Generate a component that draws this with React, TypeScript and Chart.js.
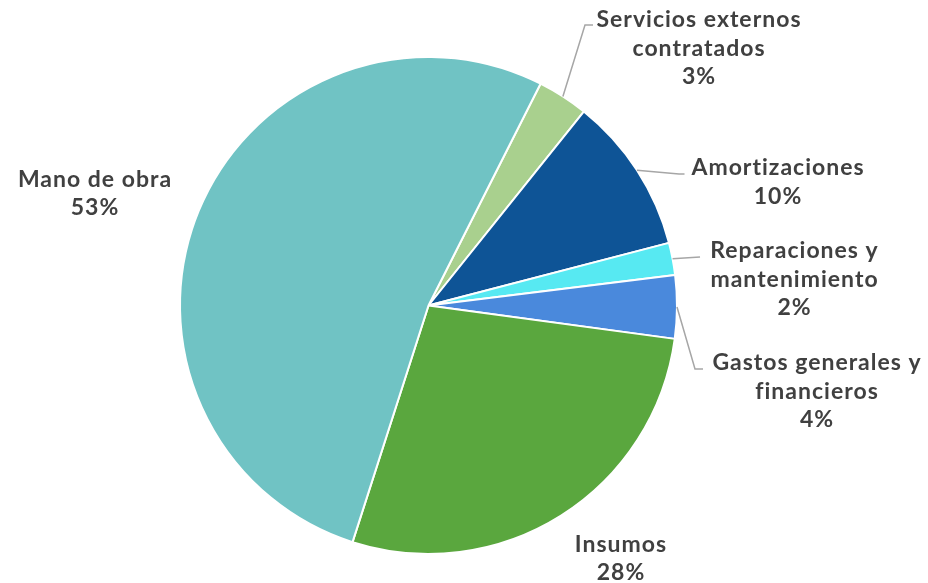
import React, { useEffect, useRef } from "react";
import { Chart, registerables } from "chart.js";

Chart.register(...registerables);

// ---- Data ----
const categories = [
  "Servicios externos contratados",
  "Amortizaciones",
  "Reparaciones y mantenimiento",
  "Gastos generales y financieros",
  "Insumos",
  "Mano de obra",
];
const values = [3.3, 10.2, 2.1, 4.1, 27.8, 52.5];
const percentLabels = ["3%", "10%", "2%", "4%", "28%", "53%"];
const labelLines = [
  ["Servicios externos", "contratados"],
  ["Amortizaciones"],
  ["Reparaciones y", "mantenimiento"],
  ["Gastos generales y", "financieros"],
  ["Insumos"],
  ["Mano de obra"],
];

// ---- Styles / layout ----
const colors = ["#A9D08E", "#0E5496", "#57E9F2", "#4A89DC", "#5AA73E", "#70C3C4"];
const START_ROTATION = 26.8;
const FONT = "bold 23px Lato";
const LETTER_SPACING = "1px";
const TEXT_COLOR = "#404040";
const LINE_HEIGHT = 28.7;
// label anchor (center x, first baseline y) as offsets from pie centre
const labelOffsets = [
  [270.5, -278.5],
  [349.5, -130.5],
  [366, -47.5],
  [388.5, 64.5],
  [192.5, 246],
  [-333.5, -119],
];
// leader line points after the arc edge, offsets from pie centre
const leaderPoints: number[][][] = [
  [[156.5, -280.5], [164.5, -280.5]],
  [[250.5, -131.5], [256, -131.5]],
  [[271.5, -48.5]],
  [[266.5, 63.5], [274.5, 63.5]],
  [],
  [],
];

const labelPlugin = {
  id: "outerLabels",
  afterDraw(chart: any) {
    const ctx = chart.ctx;
    const meta = chart.getDatasetMeta(0);
    meta.data.forEach((arc: any, i: number) => {
      const p = arc.getProps(["x", "y", "startAngle", "endAngle", "outerRadius"], true);
      const mid = (p.startAngle + p.endAngle) / 2;
      const sx = p.x + Math.cos(mid) * p.outerRadius;
      const sy = p.y + Math.sin(mid) * p.outerRadius;
      const pts = leaderPoints[i];
      if (pts.length) {
        ctx.save();
        ctx.strokeStyle = "#A6A6A6";
        ctx.lineWidth = 1.5;
        ctx.beginPath();
        ctx.moveTo(sx, sy);
        pts.forEach((q) => ctx.lineTo(p.x + q[0], p.y + q[1]));
        ctx.stroke();
        ctx.restore();
      }
      const lines = [...labelLines[i], percentLabels[i]];
      const lx = p.x + labelOffsets[i][0];
      const ly = p.y + labelOffsets[i][1];
      ctx.save();
      ctx.font = FONT;
      try {
        (ctx as any).letterSpacing = LETTER_SPACING;
      } catch (e) {}
      ctx.fillStyle = TEXT_COLOR;
      ctx.textAlign = "center";
      ctx.textBaseline = "alphabetic";
      lines.forEach((t, k) => ctx.fillText(t, lx, ly + k * LINE_HEIGHT));
      ctx.restore();
    });
  },
};

export default function App() {
  const ref = useRef<HTMLCanvasElement | null>(null);
  useEffect(() => {
    if (!ref.current) return;
    const chart = new Chart(ref.current, {
      type: "pie",
      data: {
        labels: categories,
        datasets: [
          {
            data: values,
            backgroundColor: colors,
            borderColor: "#FFFFFF",
            borderWidth: 2,
          },
        ],
      },
      options: {
        responsive: false,
        animation: false,
        rotation: START_ROTATION,
        layout: { padding: { left: 179, right: 250, top: 56, bottom: 28 } },
        plugins: {
          legend: { display: false },
          tooltip: { enabled: false },
        },
      },
      plugins: [labelPlugin],
    });
    return () => chart.destroy();
  }, []);
  return (
    <div style={{ position: "fixed", left: 0, top: 0, width: 928, height: 583, background: "#fff" }}>
      <canvas ref={ref} width={928} height={583} />
    </div>
  );
}
